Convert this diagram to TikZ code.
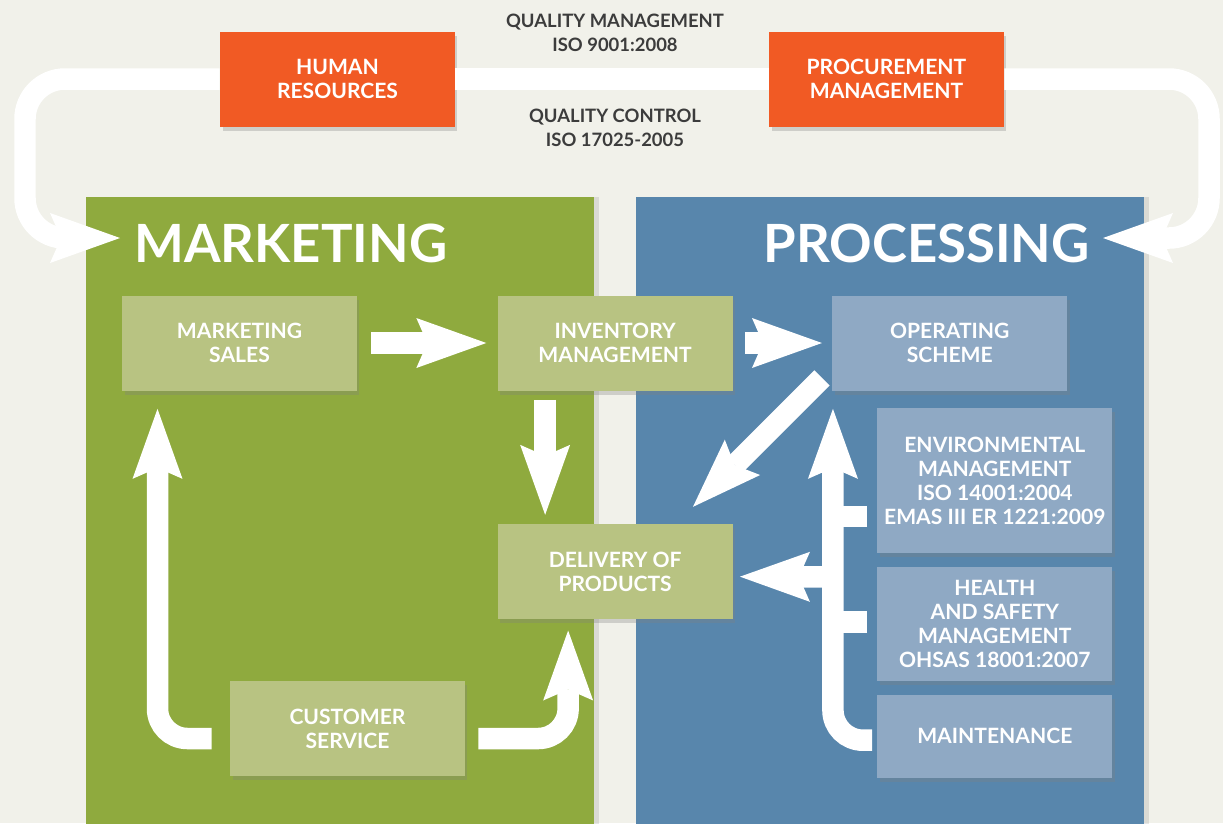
\documentclass[tikz,border=0pt]{standalone}
\usepackage{fontspec}
\setmainfont{Lato}
\usepackage{xcolor}
\definecolor{paper}{RGB}{241,241,234}
\definecolor{mkgreen}{RGB}{143,170,62}
\definecolor{mklight}{RGB}{184,195,130}
\definecolor{prblue}{RGB}{88,134,172}
\definecolor{prlight}{RGB}{143,169,196}
\definecolor{hrorange}{RGB}{241,90,36}
\definecolor{darktext}{RGB}{60,60,60}
\usetikzlibrary{positioning, shadows, arrows.meta}

\begin{document}
\begin{tikzpicture}[x=0.02cm, y=-0.02cm, node distance=0.26cm]
    % Define styles
    \tikzstyle{panel} = [rectangle, anchor=north west, inner sep=0pt,
        minimum width=10.16cm, minimum height=12.6cm,
        drop shadow={opacity=0.2, shadow xshift=0.1cm, shadow yshift=0cm}]
    \tikzstyle{title} = [text=white, inner sep=0pt,
        font=\bfseries\fontsize{30}{32}\selectfont]
    \tikzstyle{box} = [rectangle, text=white, align=center,
        minimum width=4.7cm, minimum height=1.9cm, inner sep=2pt,
        font=\bfseries\fontsize{12}{13.5}\selectfont,
        drop shadow={opacity=0.3, shadow xshift=0.05cm, shadow yshift=-0.08cm}]
    \tikzstyle{note} = [text=darktext, align=center,
        font=\bfseries\fontsize{10.5}{13.6}\selectfont]
    \tikzstyle{band} = [draw=white, line width=0.43cm]
    \tikzstyle{line} = [band,
        -{Stealth[length=1.4cm, width=1cm, inset=0.22cm, line width=0pt]}]

    \path [use as bounding box, fill=paper] (0,0) rectangle (1223,823);

    % Panels
    \node [panel, fill=mkgreen] (marketing) at (86,197) {};
    \node [panel, fill=prblue, right=0.82cm of marketing] (processing) {};
    \node [title, anchor=base west] (mktitle) at (134,262) {MARKETING};
    \node [title, anchor=base east] (prtitle) at (1090,262) {PROCESSING};

    % Place nodes
    \node [box, fill=hrorange] (hr) at (337.5,79) {HUMAN\\RESOURCES};
    \node [box, fill=hrorange] (procurement) at (886.5,79) {PROCUREMENT\\MANAGEMENT};
    \node [note] (qm) at (615,33) {QUALITY MANAGEMENT\\ISO 9001:2008};
    \node [note] (qc) at (615,128) {QUALITY CONTROL\\ISO 17025-2005};

    \node [box, fill=mklight] (sales) at (239.5,343) {MARKETING\\SALES};
    \node [box, fill=mklight, right=2.8cm of sales] (inventory) {INVENTORY\\MANAGEMENT};
    \node [box, fill=prlight, right=1.98cm of inventory] (operating) {OPERATING\\SCHEME};
    \node [box, fill=mklight, below=2.66cm of inventory] (delivery) {DELIVERY OF\\PRODUCTS};
    \node [box, fill=mklight] (customer) at (347.5,728.5) {CUSTOMER\\SERVICE};

    \node [box, fill=prlight, minimum height=2.9cm, anchor=north west] (environmental) at (877,408)
        {ENVIRONMENTAL\\MANAGEMENT\\ISO 14001:2004\\EMAS III ER 1221:2009};
    \node [box, fill=prlight, minimum height=2.28cm, below=of environmental] (health)
        {HEALTH\\AND SAFETY\\MANAGEMENT\\OHSAS 18001:2007};
    \node [box, fill=prlight, minimum height=1.66cm, below=of health] (maintenance) {MAINTENANCE};

    \coordinate (mkin) at (120,238);
    \coordinate (prin) at (1103,238);
    \coordinate (joint) at ([shift={(1,186)}]operating.south west);

    % Draw edges
    \path [band] (hr) -- (procurement);
    \path [line, rounded corners=0.8cm] (hr.west) -- (25,79) -- (25,238) -- (mkin);
    \path [line, rounded corners=0.8cm] (procurement.east) -- (1209,79) -- (1209,238) -- (prin);

    \path [line, shorten <=0.28cm, shorten >=0.22cm] (sales) -- (inventory);
    \path [line, shorten <=0.24cm, shorten >=0.2cm] (inventory) -- (operating);
    \path [line] ([shift={(-70,9)}]inventory.south) -- ([shift={(-70,-9)}]delivery.north);
    \path [line] ([shift={(-10,-13)}]operating.south west) -- ([shift={(-40,-17)}]delivery.north east);
    \path [line, rounded corners=0.6cm] ([shift={(-18,10)}]customer.west) -| ([shift={(-82,18)}]sales.south);
    \path [line, rounded corners=0.6cm] ([shift={(13,10)}]customer.east) -| ([shift={(-47,11)}]delivery.south);

    \path [line, rounded corners=0.6cm] ([shift={(-5,4)}]maintenance.west) -| ([shift={(1,18)}]operating.south west);
    \path [band] ([shift={(-10,35.5)}]environmental.west) -- ++(-36,0);
    \path [band] ([shift={(-10,-2)}]health.west) -- ++(-36,0);
    \path [line] (joint) -- ([shift={(7,5)}]delivery.east);
\end{tikzpicture}
\end{document}
